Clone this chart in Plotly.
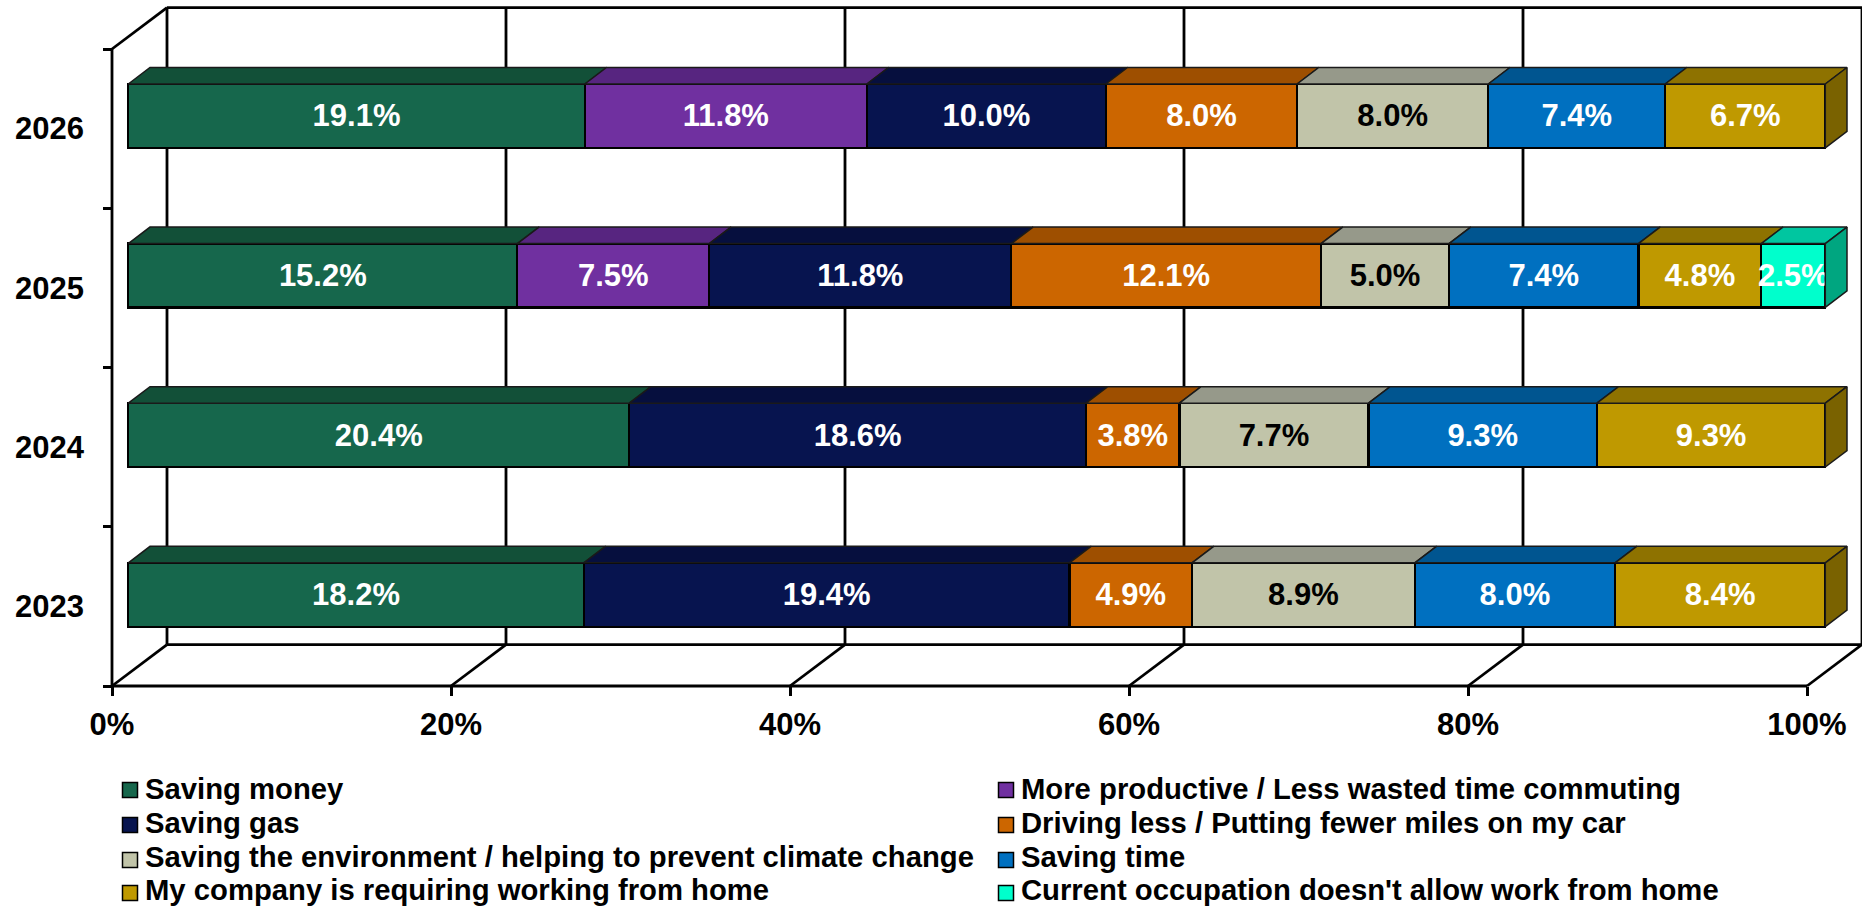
import plotly.graph_objects as go

years = [2023, 2024, 2025, 2026]
series_names = [
    "Saving money",
    "More productive / Less wasted time commuting",
    "Saving gas",
    "Driving less / Putting fewer miles on my car",
    "Saving the environment / helping to prevent climate change",
    "Saving time",
    "My company is requiring working from home",
    "Current occupation doesn't allow work from home",
]
saving_money = [18.2, 20.4, 15.2, 19.1]
more_productive = [None, None, 7.5, 11.8]
saving_gas = [19.4, 18.6, 11.8, 10.0]
driving_less = [4.9, 3.8, 12.1, 8.0]
saving_environment = [8.9, 7.7, 5.0, 8.0]
saving_time = [8.0, 9.3, 7.4, 7.4]
company_requiring = [8.4, 9.3, 4.8, 6.7]
occupation_disallows = [None, None, 2.5, None]
series_values = [saving_money, more_productive, saving_gas, driving_less,
                 saving_environment, saving_time, company_requiring, occupation_disallows]

front_colors = ["#16674C", "#7030A0", "#07144F", "#CC6600", "#C1C4A9", "#0070C0", "#BF9900", "#00FFCC"]
top_colors = ["#125038", "#572580", "#060F3E", "#9E4F00", "#96998A", "#005590", "#8E7200", "#00C6A0"]
side_colors = ["#0E4030", "#461E68", "#050C32", "#804000", "#7B7D6C", "#004574", "#7A6200", "#00A680"]
label_colors = ["white", "white", "white", "white", "black", "white", "white", "white"]
x_ticks = [0, 20, 40, 60, 80, 100]

FONT = "Liberation Sans"
W, H = 1862, 909
PLOT_L, PLOT_B = 100, 700             # drawing area: a little wider than the axes, so no line is clipped
AXIS_X, AXIS_Y = 112, 686             # where the front axes lie
PX_X, PX_Y = 16.95, 159.25            # wall axes scale
BAR_PX_X, BAR_PX_Y = 16.97, 159.6     # bar plane scale
BAR0_PX, Y2023_PX = 128.3, 594.7      # where the bar plane starts
WALL_DX, WALL_DY = 55 / PX_X, 0.26
BAR_DX, BAR_DY = 21.7 / BAR_PX_X, 16.5 / BAR_PX_Y
BAR_W = 0.4
LEGEND_SWATCH_X = [130, 1006]
LEGEND_TEXT_X = [142.5, 1018.5]
LEGEND_ROW_Y = [789, 823, 857, 889.5]
SWATCH_ROW_Y = [790, 825, 860, 893]
SWATCH = 15

fig = go.Figure()

# walls and floor (on the main axes)
y0, y1 = years[0] - 0.5, years[-1] + 0.5
wx, wy = [], []
def seg(xs, ys):
    wx.extend(xs + [None])
    wy.extend(ys + [None])
for t in x_ticks:
    seg([t + WALL_DX, t + WALL_DX], [y0 + WALL_DY, y1 + WALL_DY])
    seg([t, t + WALL_DX], [y0, y0 + WALL_DY])
seg([0, 100], [y0, y0])
seg([0, 0], [y0, y1])
seg([0, WALL_DX], [y1, y1 + WALL_DY])
seg([WALL_DX, 100 + WALL_DX], [y1 + WALL_DY, y1 + WALL_DY])
seg([WALL_DX, 100 + WALL_DX], [y0 + WALL_DY, y0 + WALL_DY])
fig.add_trace(go.Scatter(x=wx, y=wy, mode="lines", line=dict(color="black", width=2.8),
                         showlegend=False, hoverinfo="skip", xaxis="x", yaxis="y"))

# front faces
for name, vals, col, lab in zip(series_names, series_values, front_colors, label_colors):
    fig.add_trace(go.Bar(
        y=years, x=vals, name=name, orientation="h", width=BAR_W, showlegend=False,
        marker=dict(color=col, line=dict(color="black", width=2.2)),
        text=[None if v is None else f"{v:.1f}%" for v in vals],
        textposition="inside", insidetextanchor="middle", textangle=0, constraintext="none",
        textfont=dict(family=FONT, size=31, color=lab, weight="bold"),
        hoverinfo="skip", xaxis="x2", yaxis="y2",
    ))

# top and side faces, derived from the normalised stack
totals = [sum(s[i] or 0 for s in series_values) for i in range(len(years))]
cum = [0.0] * len(years)
last = [None] * len(years)
for k, vals in enumerate(series_values):
    px, py = [], []
    for i, v in enumerate(vals):
        if v is None:
            continue
        a = cum[i]
        b = a + v / totals[i] * 100
        cum[i] = b
        last[i] = k
        top = years[i] + BAR_W / 2
        px += [a, b, b + BAR_DX, a + BAR_DX, a, None]
        py += [top, top, top + BAR_DY, top + BAR_DY, top, None]
    fig.add_trace(go.Scatter(x=px, y=py, mode="lines", fill="toself", fillcolor=top_colors[k],
                             line=dict(color="#1a1a1a", width=1.5), showlegend=False,
                             hoverinfo="skip", xaxis="x2", yaxis="y2"))
for i, k in enumerate(last):
    top, bot = years[i] + BAR_W / 2, years[i] - BAR_W / 2
    fig.add_trace(go.Scatter(
        x=[100, 100 + BAR_DX, 100 + BAR_DX, 100, 100],
        y=[top, top + BAR_DY, bot + BAR_DY, bot, top],
        mode="lines", fill="toself", fillcolor=side_colors[k],
        line=dict(color="#1a1a1a", width=1.5), showlegend=False,
        hoverinfo="skip", xaxis="x2", yaxis="y2"))

# two-column legend, row spacing tighter than the library's own legend allows
def px_x(v):
    return (v - PLOT_L) / (W - PLOT_L)
def px_y(v):
    return (PLOT_B - v) / PLOT_B
legend_font = dict(family=FONT, size=29.25, color="black", weight="bold")
annotations, shapes = [], []
for k, (name, col) in enumerate(zip(series_names, front_colors)):
    c, r = k % 2, k // 2
    annotations.append(dict(text=name, xref="paper", yref="paper", x=px_x(LEGEND_TEXT_X[c]),
                            y=px_y(LEGEND_ROW_Y[r]), xanchor="left", yanchor="middle",
                            showarrow=False, font=legend_font))
    shapes.append(dict(type="rect", xref="paper", yref="paper", layer="above",
                       x0=px_x(LEGEND_SWATCH_X[c] - SWATCH / 2), x1=px_x(LEGEND_SWATCH_X[c] + SWATCH / 2),
                       y0=px_y(SWATCH_ROW_Y[r] + SWATCH / 2), y1=px_y(SWATCH_ROW_Y[r] - SWATCH / 2),
                       fillcolor=col, line=dict(color="black", width=1.5)))

tick_font = dict(family=FONT, size=31, color="black", weight="bold")
fig.update_layout(
    width=W, height=H,
    margin=dict(l=PLOT_L, r=0, t=0, b=H - PLOT_B, pad=0, autoexpand=False),
    paper_bgcolor="white", plot_bgcolor="white",
    barmode="stack", barnorm="percent", showlegend=False,
    annotations=annotations, shapes=shapes,
    xaxis=dict(range=[(PLOT_L - AXIS_X) / PX_X, (W - AXIS_X) / PX_X],
               anchor="free", position=px_y(AXIS_Y),
               tickvals=x_ticks, ticktext=[f"{t}%" for t in x_ticks],
               ticks="outside", ticklen=9, tickwidth=2.8, tickcolor="black",
               ticklabelstandoff=2, showgrid=False, zeroline=False, showline=False,
               tickfont=tick_font, fixedrange=True),
    yaxis=dict(range=[y0 - (PLOT_B - AXIS_Y) / PX_Y, y0 + AXIS_Y / PX_Y],
               anchor="free", position=px_x(AXIS_X),
               tickvals=years, tickformat="d",
               ticks="", ticklabelstandoff=28, showgrid=False, zeroline=False, showline=False,
               tickfont=tick_font, fixedrange=True,
               minor=dict(tickvals=[y - 0.5 for y in years] + [y1], ticks="outside",
                          ticklen=9, tickwidth=2.8, tickcolor="black", showgrid=False)),
    xaxis2=dict(overlaying="x", visible=False, fixedrange=True,
                range=[(PLOT_L - BAR0_PX) / BAR_PX_X, (W - BAR0_PX) / BAR_PX_X]),
    yaxis2=dict(overlaying="y", visible=False, fixedrange=True,
                range=[years[0] - (PLOT_B - Y2023_PX) / BAR_PX_Y, years[0] + Y2023_PX / BAR_PX_Y]),
)

fig.write_html("out.html", config={"displayModeBar": False},
               post_script="document.body.style.margin='0';")
